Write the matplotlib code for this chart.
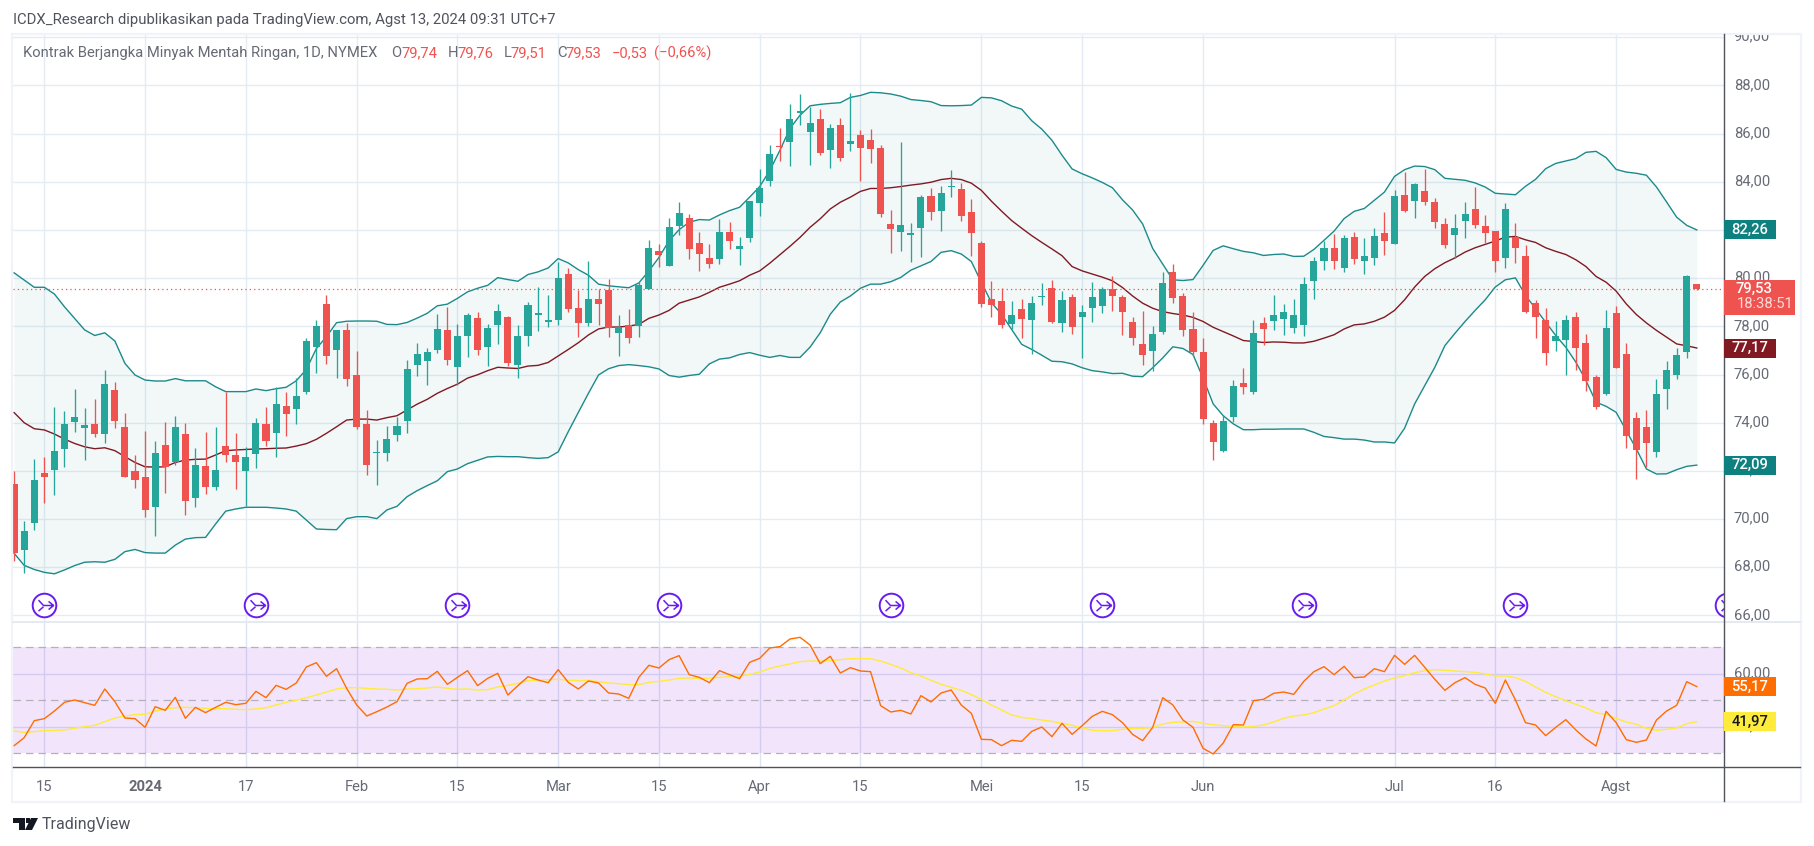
import matplotlib
matplotlib.use("Agg")
import matplotlib.pyplot as plt
from matplotlib.patches import Rectangle, Polygon
from matplotlib.path import Path
from matplotlib.transforms import Bbox, ScaledTranslation
from matplotlib.ticker import FuncFormatter

plt.rcParams['font.family'] = ['Roboto', 'DejaVu Sans']

W, H = 1814, 846

# daily candles
opens = [71.45, 68.73, 69.85, 71.91, 72.04, 72.92, 74.03, 73.79, 73.94, 73.53,
         75.36, 73.82, 72.00, 71.75, 70.50, 73.07, 72.37, 73.53, 70.87, 72.20,
         71.33, 73.03, 72.66, 72.00, 72.70, 73.94, 73.57, 74.69, 74.57, 75.27,
         77.14, 78.92, 77.02, 77.85, 75.98, 73.94, 72.76, 72.74, 73.49, 74.07,
         76.39, 76.56, 77.02, 77.85, 76.31, 77.60, 78.34, 77.14, 78.05, 78.38,
         76.39, 77.60, 78.47, 78.18, 78.26, 80.17, 78.76, 78.14, 79.13, 79.51,
         77.72, 78.05, 78.01, 79.55, 81.14, 80.51, 82.18, 82.51, 81.47, 80.84,
         80.80, 81.93, 81.22, 81.68, 83.10, 84.01, 85.47, 85.64, 86.85, 86.05,
         86.59, 85.30, 86.35, 85.55, 85.93, 85.72, 85.39, 82.26, 81.93, 81.80,
         82.10, 83.39, 82.80, 83.80, 83.68, 82.76, 81.47, 79.14, 79.05, 78.09,
         78.72, 78.26, 79.22, 79.59, 78.14, 79.22, 78.39, 78.76, 78.84, 79.55,
         79.22, 78.18, 77.26, 76.97, 77.76, 80.26, 79.26, 77.89, 76.93, 74.00,
         72.84, 74.25, 75.66, 75.29, 78.12, 78.20, 78.32, 77.91, 78.07, 79.86,
         80.69, 81.27, 80.40, 81.69, 80.69, 80.82, 81.86, 81.40, 83.43, 83.19,
         83.60, 83.14, 82.23, 81.77, 82.35, 82.85, 82.15, 81.94, 80.82, 81.69,
         80.90, 78.95, 78.28, 77.41, 77.45, 78.37, 77.29, 75.91, 75.21, 78.57,
         76.87, 74.21, 73.84, 72.80, 75.41, 76.00, 76.95, 79.74]
highs = [72.01, 69.92, 72.49, 72.58, 74.65, 74.48, 75.40, 74.61, 74.98, 76.19,
         75.69, 74.40, 72.66, 73.65, 73.24, 74.03, 74.28, 73.99, 72.95, 73.61,
         73.82, 75.27, 73.57, 72.99, 74.19, 74.65, 75.48, 75.27, 75.85, 77.51,
         78.26, 79.30, 77.85, 78.14, 76.97, 74.53, 73.28, 73.86, 74.24, 76.60,
         77.31, 77.10, 78.51, 78.80, 78.09, 78.55, 78.59, 78.09, 78.92, 78.43,
         78.05, 79.01, 79.63, 79.30, 80.67, 80.40, 79.50, 80.70, 79.55, 79.97,
         78.47, 78.72, 79.85, 81.60, 81.43, 82.51, 83.14, 82.64, 81.93, 81.43,
         82.47, 82.34, 81.72, 83.18, 84.51, 85.51, 86.22, 87.22, 87.64, 87.10,
         87.01, 86.39, 86.64, 87.68, 86.14, 86.18, 85.51, 82.84, 85.64, 82.30,
         83.43, 83.72, 83.84, 84.47, 83.93, 83.30, 81.55, 79.89, 79.59, 79.05,
         79.14, 79.26, 79.80, 79.93, 79.47, 79.35, 78.89, 79.85, 79.64, 80.10,
         79.30, 78.39, 78.64, 78.01, 80.26, 80.59, 79.39, 78.59, 77.51, 74.11,
         74.33, 75.79, 76.25, 78.28, 78.37, 79.32, 78.91, 79.15, 80.03, 80.86,
         81.52, 81.81, 81.77, 81.90, 81.65, 82.06, 82.73, 83.64, 84.39, 83.93,
         84.51, 83.31, 82.48, 82.65, 83.14, 83.77, 82.60, 81.94, 83.10, 82.27,
         81.36, 79.11, 78.74, 78.20, 78.49, 78.61, 77.70, 75.96, 78.66, 78.86,
         77.29, 74.46, 74.54, 75.83, 76.54, 77.08, 80.15, 79.76]
lows = [68.27, 67.75, 69.56, 70.68, 71.00, 72.17, 73.61, 72.45, 73.42, 73.16,
        73.78, 71.75, 71.29, 70.09, 69.30, 71.08, 72.24, 70.17, 70.50, 71.04,
        71.21, 72.37, 71.25, 70.54, 72.12, 73.03, 72.58, 73.45, 73.94, 75.19,
        76.06, 76.43, 75.85, 75.52, 73.74, 71.83, 71.41, 72.41, 73.24, 73.57,
        75.94, 75.56, 76.89, 76.39, 75.56, 76.73, 76.81, 76.35, 77.26, 76.35,
        75.85, 77.18, 77.80, 77.97, 78.05, 78.59, 77.55, 78.01, 78.05, 77.55,
        76.76, 77.30, 77.55, 79.55, 80.47, 80.51, 81.80, 80.80, 80.30, 80.43,
        80.59, 81.22, 80.55, 81.51, 82.59, 83.84, 84.84, 84.64, 86.35, 84.68,
        85.10, 84.55, 84.84, 85.26, 84.05, 84.76, 82.55, 81.05, 81.14, 80.68,
        80.89, 82.43, 81.97, 83.35, 82.39, 80.93, 78.80, 78.39, 77.93, 77.89,
        77.51, 76.84, 78.89, 78.14, 77.76, 77.68, 76.68, 78.18, 78.55, 78.64,
        77.64, 77.22, 76.39, 76.14, 77.68, 78.97, 77.60, 76.76, 73.93, 72.47,
        72.80, 74.04, 75.21, 75.21, 77.24, 77.85, 77.66, 77.74, 77.58, 79.15,
        80.32, 80.36, 80.24, 80.57, 80.19, 80.53, 80.98, 81.40, 82.73, 82.48,
        83.02, 82.10, 81.27, 80.82, 81.65, 82.10, 81.44, 80.24, 80.44, 80.61,
        78.57, 77.53, 76.41, 76.99, 76.00, 76.17, 75.33, 74.58, 75.17, 76.25,
        72.96, 71.68, 72.17, 72.59, 74.58, 75.83, 76.70, 79.51]
closes = [68.61, 69.50, 71.62, 71.76, 72.82, 73.94, 74.24, 73.90, 73.53, 75.60,
          74.07, 71.75, 71.62, 70.38, 72.74, 72.16, 73.82, 70.75, 72.24, 71.33,
          72.04, 72.66, 72.37, 72.58, 73.99, 73.24, 74.77, 74.36, 75.11, 77.39,
          78.01, 76.77, 77.85, 75.81, 73.82, 72.24, 72.78, 73.32, 73.86, 76.23,
          76.85, 76.93, 77.89, 76.60, 77.60, 78.47, 77.02, 77.93, 78.63, 76.48,
          77.60, 78.88, 78.55, 78.26, 80.00, 78.71, 78.14, 79.13, 78.92, 77.91,
          77.97, 77.51, 79.72, 81.26, 80.97, 82.14, 82.72, 81.22, 81.01, 80.59,
          81.93, 81.55, 81.35, 83.18, 83.72, 85.14, 85.43, 86.59, 86.93, 86.43,
          85.18, 86.22, 84.97, 85.68, 85.39, 85.35, 82.64, 82.05, 82.22, 81.89,
          83.35, 82.76, 83.55, 83.84, 82.59, 81.89, 78.93, 78.89, 78.05, 78.47,
          78.30, 78.97, 79.26, 78.18, 79.10, 77.97, 78.59, 79.22, 79.55, 79.26,
          78.59, 77.51, 76.80, 77.68, 79.80, 79.18, 77.85, 76.93, 74.14, 73.21,
          74.09, 75.54, 75.50, 77.74, 77.87, 78.49, 78.61, 78.45, 79.74, 80.73,
          81.27, 80.69, 81.65, 80.78, 80.90, 81.73, 81.52, 83.39, 82.77, 83.89,
          83.14, 82.31, 81.36, 82.10, 82.65, 82.19, 81.86, 80.73, 82.85, 81.27,
          78.61, 78.37, 76.91, 77.58, 78.28, 77.12, 75.75, 74.67, 77.91, 76.25,
          73.46, 72.88, 73.17, 75.21, 76.20, 76.83, 80.07, 79.53]

# bollinger bands
bbUpper = [80.22, 79.92, 79.62, 79.62, 79.34, 78.81, 78.33, 77.85, 77.62, 77.73,
           77.39, 76.46, 75.98, 75.77, 75.73, 75.73, 75.83, 75.74, 75.74, 75.74,
           75.49, 75.29, 75.29, 75.29, 75.40, 75.33, 75.41, 75.47, 75.74, 76.21,
           77.08, 77.57, 78.15, 78.21, 78.22, 78.22, 78.21, 78.08, 78.07, 78.16,
           78.34, 78.54, 78.85, 78.92, 79.16, 79.43, 79.58, 79.70, 80.02, 79.94,
           79.87, 80.15, 80.26, 80.42, 80.81, 80.63, 80.35, 80.12, 79.75, 79.68,
           79.64, 79.60, 79.80, 80.30, 80.86, 81.55, 82.01, 82.32, 82.43, 82.41,
           82.62, 82.80, 82.94, 83.36, 83.80, 84.47, 85.30, 86.21, 86.76, 87.15,
           87.21, 87.25, 87.28, 87.50, 87.58, 87.71, 87.69, 87.64, 87.55, 87.41,
           87.37, 87.32, 87.16, 87.15, 87.16, 87.18, 87.50, 87.48, 87.36, 87.14,
           87.01, 86.53, 86.18, 85.72, 85.10, 84.53, 84.33, 84.16, 83.97, 83.75,
           83.25, 82.83, 82.25, 81.23, 80.58, 79.93, 79.90, 79.94, 80.53, 81.15,
           81.34, 81.22, 81.11, 81.05, 80.94, 80.98, 81.00, 80.90, 80.91, 81.19,
           81.57, 81.95, 82.47, 82.77, 82.89, 83.23, 83.57, 84.22, 84.50, 84.65,
           84.63, 84.50, 84.14, 84.10, 84.06, 83.95, 83.78, 83.52, 83.49, 83.46,
           83.81, 84.10, 84.54, 84.76, 84.86, 84.96, 85.22, 85.26, 85.00, 84.51,
           84.40, 84.35, 84.27, 83.78, 83.16, 82.53, 82.19, 82.00]
bbMiddle = [74.42, 74.00, 73.75, 73.70, 73.53, 73.32, 73.14, 73.00, 72.92, 72.96,
            72.84, 72.59, 72.35, 72.17, 72.16, 72.17, 72.35, 72.45, 72.48, 72.49,
            72.66, 72.84, 72.87, 72.89, 72.91, 72.92, 72.94, 72.95, 73.03, 73.13,
            73.31, 73.56, 73.83, 74.11, 74.15, 74.15, 74.11, 74.21, 74.29, 74.53,
            74.77, 74.97, 75.22, 75.42, 75.60, 75.85, 75.99, 76.16, 76.30, 76.27,
            76.25, 76.35, 76.38, 76.50, 76.77, 77.04, 77.32, 77.64, 77.89, 77.97,
            77.97, 78.01, 78.08, 78.33, 78.47, 78.66, 78.96, 79.09, 79.22, 79.41,
            79.62, 79.75, 79.89, 80.12, 80.30, 80.62, 80.97, 81.32, 81.69, 82.11,
            82.46, 82.87, 83.15, 83.36, 83.60, 83.72, 83.72, 83.75, 83.80, 83.86,
            83.91, 83.98, 84.09, 84.14, 84.09, 83.94, 83.64, 83.19, 82.78, 82.39,
            82.07, 81.76, 81.48, 81.21, 80.93, 80.48, 80.30, 80.17, 80.04, 79.89,
            79.61, 79.26, 78.96, 78.75, 78.61, 78.53, 78.47, 78.37, 78.20, 77.96,
            77.78, 77.60, 77.41, 77.37, 77.33, 77.35, 77.34, 77.31, 77.31, 77.38,
            77.51, 77.65, 77.89, 78.06, 78.10, 78.21, 78.38, 78.66, 79.10, 79.63,
            80.07, 80.39, 80.64, 80.84, 81.08, 81.26, 81.40, 81.54, 81.70, 81.73,
            81.59, 81.48, 81.26, 81.11, 80.98, 80.76, 80.48, 80.07, 79.83, 79.46,
            78.93, 78.49, 78.14, 77.83, 77.55, 77.27, 77.19, 77.10]
bbLower = [68.58, 68.08, 67.91, 67.79, 67.73, 67.89, 68.07, 68.21, 68.23, 68.21,
           68.33, 68.65, 68.74, 68.61, 68.59, 68.59, 68.92, 69.17, 69.23, 69.24,
           69.80, 70.33, 70.42, 70.49, 70.49, 70.49, 70.46, 70.42, 70.33, 69.96,
           69.59, 69.57, 69.56, 70.02, 70.10, 70.10, 70.02, 70.38, 70.53, 70.93,
           71.18, 71.39, 71.59, 71.97, 72.08, 72.30, 72.44, 72.58, 72.60, 72.59,
           72.59, 72.55, 72.52, 72.55, 72.79, 73.63, 74.43, 75.22, 75.98, 76.24,
           76.37, 76.41, 76.37, 76.32, 76.23, 75.96, 75.89, 75.96, 76.01, 76.44,
           76.64, 76.69, 76.83, 76.91, 76.80, 76.71, 76.79, 76.71, 76.71, 77.14,
           77.73, 78.50, 79.01, 79.26, 79.58, 79.75, 79.75, 79.85, 80.03, 80.33,
           80.51, 80.69, 81.07, 81.14, 81.00, 80.69, 79.82, 78.98, 78.50, 77.87,
           77.25, 77.04, 76.80, 76.55, 76.53, 76.44, 76.28, 76.16, 76.11, 76.04,
           76.05, 75.93, 75.91, 76.28, 76.69, 77.15, 77.08, 76.83, 75.85, 74.78,
           74.29, 73.95, 73.71, 73.71, 73.73, 73.73, 73.74, 73.74, 73.74, 73.60,
           73.43, 73.38, 73.32, 73.32, 73.28, 73.20, 73.20, 73.16, 73.77, 74.78,
           75.54, 76.30, 77.20, 77.71, 78.20, 78.66, 79.10, 79.63, 79.93, 80.01,
           79.28, 78.73, 78.17, 77.62, 77.13, 76.51, 75.75, 74.85, 74.68, 74.43,
           73.67, 72.91, 72.08, 71.87, 71.88, 72.05, 72.19, 72.24]

# rsi pane
rsi = [32.89, 35.91, 42.33, 43.08, 45.97, 49.25, 50.13, 49.12, 48.11, 54.28,
       49.50, 43.33, 43.08, 39.81, 47.61, 46.23, 51.13, 43.21, 47.36, 45.35,
       47.36, 49.25, 48.36, 48.87, 53.40, 51.01, 55.66, 54.15, 56.54, 62.58,
       64.21, 59.06, 61.95, 54.53, 48.24, 44.09, 45.72, 47.48, 49.50, 56.42,
       58.05, 58.18, 60.94, 56.04, 58.68, 61.19, 55.53, 58.30, 60.19, 52.01,
       55.53, 58.93, 57.67, 56.67, 61.57, 56.79, 54.28, 57.30, 56.54, 52.77,
       52.39, 50.75, 58.68, 63.21, 62.20, 65.35, 66.86, 59.69, 58.68, 56.67,
       61.19, 59.69, 58.18, 64.34, 65.85, 69.75, 70.25, 73.14, 73.77, 70.88,
       63.84, 66.60, 60.31, 62.33, 61.07, 60.82, 47.99, 45.60, 46.23, 44.84,
       51.76, 49.37, 52.77, 53.90, 48.24, 45.09, 35.28, 35.16, 32.89, 34.91,
       34.53, 38.30, 39.94, 36.29, 41.32, 37.17, 40.44, 43.96, 45.85, 44.59,
       41.57, 37.17, 34.78, 39.81, 51.01, 48.24, 42.58, 39.81, 31.89, 29.75,
       33.90, 40.82, 40.69, 49.87, 50.38, 52.64, 53.14, 52.26, 57.17, 60.82,
       62.70, 59.69, 62.83, 58.55, 58.81, 61.95, 60.82, 66.98, 63.58, 66.98,
       62.45, 57.92, 53.77, 56.67, 58.55, 56.04, 54.65, 48.87, 57.67, 50.13,
       41.57, 40.69, 36.67, 39.81, 42.70, 38.81, 35.41, 32.77, 45.85, 41.57,
       35.16, 34.15, 35.03, 42.58, 45.97, 48.11, 57.04, 55.17]
rsiMa = [38.43, 37.92, 38.18, 38.55, 38.68, 38.81, 39.43, 40.06, 40.57, 41.95,
         43.33, 44.09, 44.59, 44.72, 45.97, 46.73, 47.23, 47.36, 47.23, 46.98,
         46.86, 46.86, 46.60, 46.48, 46.73, 47.23, 48.24, 49.25, 50.00, 51.01,
         52.01, 53.14, 54.28, 54.78, 54.78, 54.53, 54.28, 54.15, 53.90, 54.28,
         54.40, 54.65, 55.03, 54.53, 54.15, 54.28, 53.90, 54.03, 55.03, 55.66,
         56.42, 57.42, 57.67, 57.80, 57.92, 57.55, 57.42, 57.55, 57.04, 56.54,
         56.29, 55.91, 55.91, 56.79, 57.17, 57.67, 58.30, 58.43, 58.30, 58.30,
         58.68, 58.93, 59.06, 59.81, 60.69, 62.08, 62.96, 63.71, 64.59, 64.84,
         64.84, 64.97, 65.35, 65.72, 65.72, 65.72, 64.84, 63.58, 62.20, 60.44,
         59.18, 57.55, 56.04, 54.91, 53.77, 52.14, 50.38, 48.24, 46.35, 44.47,
         43.58, 43.08, 42.58, 42.08, 41.32, 40.57, 39.56, 38.68, 38.55, 38.55,
         39.06, 39.43, 39.43, 39.69, 41.07, 41.70, 41.82, 42.08, 41.32, 40.82,
         40.44, 40.19, 39.94, 40.19, 40.69, 41.82, 43.21, 44.09, 44.47, 45.35,
         46.73, 47.99, 50.13, 52.39, 54.28, 55.79, 57.30, 58.43, 59.31, 60.44,
         61.19, 61.57, 61.32, 61.07, 60.82, 60.57, 59.94, 59.18, 59.18, 58.55,
         57.17, 55.03, 53.02, 51.38, 49.87, 48.49, 47.11, 45.35, 44.59, 43.21,
         41.82, 40.94, 39.43, 38.68, 39.06, 39.56, 41.19, 41.97]

tickBars = [3, 13, 23, 34, 44, 54, 64, 74, 84, 96, 106, 118, 137, 147, 159]
tickNames = ['15', '2024', '17', 'Feb', '15', 'Mar', '15', 'Apr', '15', 'Mei', '15', 'Jun', 'Jul', '16', 'Agst']
priceTicks = [66, 68, 70, 72, 74, 76, 78, 80, 82, 84, 86, 88, 90]
rsiTicks = [40, 60]
rsiLevels = [70, 50, 30]
eventBars = [3, 24, 44, 65, 87, 108, 128, 149, 170]
eventLevel = 66.43
lastPrice = 79.53

RED = '#ef5350'
GREEN = '#26a69a'
TEAL = '#1c8a8a'
MAROON = '#801922'
ORANGE = '#ff6d00'
YELLOW = '#ffeb3b'
PURPLE = '#6a1bf0'
GRID = '#e4ebf2'
AXISCOL = '#50535e'
TEXTCOL = '#666a75'
FRAME = '#f0f3fa'
FS = 10.6


def fx(x):
    return x / W


def fy(y):
    return 1 - y / H


def axRect(left, top, right, bottom):
    return [fx(left), fy(bottom), fx(right - left), fy(top) - fy(bottom)]


def ptext(x, y, s, color=TEXTCOL, size=FS, ha='left', weight='normal'):
    fig.text(fx(x), fy(y), s, color=color, fontsize=size, ha=ha, va='center', fontweight=weight)


def tag(ax, value, label, color, textColor='white', width=52, height=19):
    # coloured label on the price scale, centred on value
    yPix = H - ax.transData.transform((0, value))[1]
    fig.add_artist(Rectangle((fx(1724), fy(yPix + height / 2)), width / W, height / H,
                             transform=fig.transFigure, fc=color, ec='none', zorder=5))
    fig.text(fx(1724 + width / 2), fy(yPix), label, color=textColor, fontsize=FS, ha='center',
             va='center', zorder=6, fontweight='medium')


fig = plt.figure(figsize=(W / 100, H / 100), dpi=100, facecolor='white')

axPrice = fig.add_axes(axRect(13, 34, 1724, 622))
axRsi = fig.add_axes(axRect(13, 622, 1724, 767))

x0 = -0.11
x1 = 169.7
bars = list(range(len(closes)))

# --- price pane ---
axPrice.set_xlim(x0, x1)
axPrice.set_ylim(65.73, 90.13)

axPrice.fill_between(bars, bbUpper, bbLower, color='#008080', alpha=0.05, lw=0, zorder=1)
axPrice.plot(bars, bbUpper, color=TEAL, lw=1.0, zorder=2)
axPrice.plot(bars, bbLower, color=TEAL, lw=1.0, zorder=2)
axPrice.plot(bars, bbMiddle, color=MAROON, lw=1.0, zorder=2)
axPrice.axhline(lastPrice, color=RED, lw=0.9, ls=(0, (1, 2.5)), zorder=2)

candleCols = [GREEN if c >= o else RED for o, c in zip(opens, closes)]
axPrice.vlines(bars, lows, highs, colors=candleCols, lw=0.95, zorder=3)
axPrice.bar(bars, [abs(c - o) for o, c in zip(opens, closes)], bottom=[min(o, c) for o, c in zip(opens, closes)],
            width=0.7, color=candleCols, lw=0, zorder=4)

# the circled arrow markers along the bottom of the price pane
arrowPath = Path([(-0.47, 0.42), (-0.08, 0.0), (0.71, 0.0), (0.32, 0.32), (0.71, 0.0), (0.32, -0.32), (-0.47, -0.44), (-0.08, -0.1)],
                 [Path.MOVETO, Path.LINETO, Path.LINETO, Path.MOVETO, Path.LINETO, Path.LINETO, Path.MOVETO, Path.LINETO])
axPrice.plot(eventBars, [eventLevel] * len(eventBars), ls='none', marker='o', ms=17, mfc='white', mec=PURPLE, mew=1.4, zorder=5)
axPrice.plot(eventBars, [eventLevel] * len(eventBars), ls='none', marker=arrowPath, ms=13, mfc='none', mec=PURPLE, mew=1.1, zorder=6)

# --- rsi pane ---
axRsi.set_xlim(x0, x1)
axRsi.set_ylim(24.84, 79.56)
axRsi.axhspan(rsiLevels[2], rsiLevels[0], color='#8800e0', alpha=0.10, lw=0, zorder=1)
for level in rsiLevels:
    axRsi.axhline(level, color='#b4afbd', lw=0.9, ls=(0, (6, 4)), zorder=2)
axRsi.plot(bars, rsiMa, color=YELLOW, lw=1.0, zorder=3)
axRsi.plot(bars, rsi, color=ORANGE, lw=1.0, zorder=4)

# --- axes dressing ---
for ax in [axPrice, axRsi]:
    for s in ax.spines.values():
        s.set_visible(False)
    ax.set_axisbelow(True)
    ax.grid(True, color=GRID, lw=1.0)
    ax.set_xticks(tickBars)
    ax.yaxis.tick_right()
    ax.tick_params(length=0, labelcolor=TEXTCOL, labelsize=FS, pad=7)
    ax.yaxis.set_major_formatter(FuncFormatter(lambda v, p: ('%.2f' % v).replace('.', ',')))

axPrice.set_yticks(priceTicks)
axPrice.tick_params(axis='x', labelbottom=False)
axRsi.set_yticks(rsiTicks)
axRsi.set_xticklabels(tickNames)
axRsi.tick_params(axis='x', pad=9.5)
axRsi.get_xticklabels()[1].set_fontweight('bold')
axRsi.grid(True, color='#dde4f2', lw=1.0)

# scale labels sit a little above their grid lines, and 90,00 is cut by the frame at the top
lift = ScaledTranslation(0, 2 / 100, fig.dpi_scale_trans)
clipBox = Bbox([[0, 0], [W, H - 34]])
for t in axPrice.yaxis.get_major_ticks() + axRsi.yaxis.get_major_ticks():
    t.label2.set_transform(t.label2.get_transform() + lift)
    t.label2.set_clip_box(clipBox)
    t.label2.set_clip_on(True)

# frame, scale lines, pane divider
fig.add_artist(Rectangle((fx(12), fy(802)), 1789 / W, 768 / H, transform=fig.transFigure, fill=False, ec=FRAME, lw=1.6))
fig.add_artist(plt.Line2D([fx(13), fx(1800)], [fy(622), fy(622)], color='#e3e8f0', lw=1.3))
fig.add_artist(plt.Line2D([fx(13), fx(1800)], [fy(767), fy(767)], color=AXISCOL, lw=1.0, zorder=4))
fig.add_artist(plt.Line2D([fx(1724), fx(1724)], [fy(34), fy(801)], color=AXISCOL, lw=1.0, zorder=4))

# last value tags
tag(axPrice, bbUpper[-1], '82,26', '#0f8080')
tag(axPrice, bbMiddle[-1], '77,17', MAROON)
tag(axPrice, bbLower[-1], '72,09', '#0f8080')
tag(axRsi, rsi[-1], '55,17', ORANGE)
tag(axRsi, rsiMa[-1], '41,97', YELLOW, textColor='#131722')

lastY = H - axPrice.transData.transform((0, lastPrice))[1]
fig.add_artist(Rectangle((fx(1724), fy(lastY + 26)), 71 / W, 35 / H, transform=fig.transFigure, fc=RED, ec='none', zorder=5))
fig.text(fx(1736), fy(lastY - 1), '79,53', color='white', fontsize=FS, va='center', zorder=6, fontweight='medium')
fig.text(fx(1737), fy(lastY + 15), '18:38:51', color='#fbdcdb', fontsize=FS, va='center', zorder=6)

# header and legend line
ptext(13, 20, 'ICDX_Research dipublikasikan pada TradingView.com, Agst 13, 2024 09:31 UTC+7', color='#50535e', size=10.7)
ptext(23, 53, 'Kontrak Berjangka Minyak Mentah Ringan, 1D, NYMEX')
ptext(391, 53, 'O')
ptext(401.5, 53, '79,74', color=RED)
ptext(447.5, 53, 'H')
ptext(457, 53, '79,76', color=RED)
ptext(503.5, 53, 'L')
ptext(511, 53, '79,51', color=RED)
ptext(557, 53, 'C')
ptext(566, 53, '79,53', color=RED)
ptext(612, 53, '\u22120,53', color=RED)
ptext(654, 53, '(\u22120,66%)', color=RED)

# tradingview logo
logoCol = '#131722'
fig.add_artist(Polygon([(fx(13), fy(818)), (fx(25), fy(818)), (fx(25), fy(830)), (fx(19), fy(830)), (fx(19), fy(823)), (fx(13), fy(823))],
                       closed=True, transform=fig.transFigure, fc=logoCol, ec='none'))
fig.add_artist(Polygon([(fx(31), fy(818)), (fx(38), fy(818)), (fx(32), fy(830)), (fx(25), fy(830))],
                       closed=True, transform=fig.transFigure, fc=logoCol, ec='none'))
fig.add_artist(Rectangle((fx(26), fy(823)), 4 / W, 5 / H, transform=fig.transFigure, fc=logoCol, ec='none'))
ptext(42, 824, 'TradingView', color='#50535e', size=11.5)

fig.savefig('out.png', dpi=100)
